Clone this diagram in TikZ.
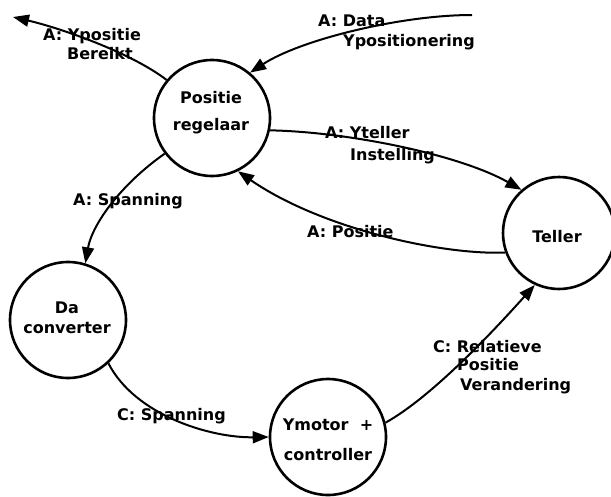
\documentclass[tikz,border=0pt]{standalone}
\usepackage{fontspec}
\setmainfont{DejaVu Sans}
\usetikzlibrary{arrows.meta}
\begin{document}
\begin{tikzpicture}[x=1pt,y=-1pt,
  proc/.style={circle,draw,line width=2.6pt,inner sep=0pt,minimum size=116pt},
  flow/.style={line width=2pt,-{Triangle[length=16pt,width=12pt]}},
  txt/.style={inner sep=0pt,font=\fontsize{16}{19}\selectfont\bfseries},
  lbl/.style={txt,anchor=base west},
  ctr/.style={txt,anchor=base}]
\useasboundingbox (0,0) rectangle (611,496);
\fill[white] (0,0) rectangle (611,496);

% processes
\node[proc] (P) at (212,118) {};
\node[proc,minimum size=112pt] (T) at (559,233) {};
\node[proc] (D) at (68,320) {};
\node[proc] (Y) at (328,437) {};

% free ends of the external flows
\coordinate (outL) at (13,17);
\coordinate (inD) at (472,15);

% flows
\draw[flow] (P.140) .. controls (130,52) and (60,28) .. (outL);
\draw[flow] (inD) .. controls (400,15) and (300,40) .. (P.50);
\draw[flow] (P.-12) .. controls (350,132) and (460,155) .. (T.131);
\draw[flow] (T.200) .. controls (440,255) and (320,228) .. (P.-64);
\draw[flow] (P.217) .. controls (120,185) and (92,225) .. (D.73);
\draw[flow] (D.-47) .. controls (135,415) and (210,438) .. (Y.180);
\draw[flow] (Y.14) .. controls (430,398) and (490,335) .. (T.245);

% flow labels
\node[lbl] (l1a) at (43,40) {A: Ypositie};
\node[lbl] (l1b) at (67,59) {Bereikt};
\node[lbl] (l2a) at (318,26) {A: Data};
\node[lbl] (l2b) at (343,46) {Ypositionering};
\node[lbl] (l3a) at (325,138) {A: Yteller};
\node[lbl] (l3b) at (350,160) {Instelling};
\node[lbl] (l4) at (307,237) {A: Positie};
\node[lbl] (l5) at (73,205) {A: Spanning};
\node[lbl] (l6) at (117,420) {C: Spanning};
\node[lbl] (l7a) at (433,352) {C: Relatieve};
\node[lbl] (l7b) at (457,370) {Positie};
\node[lbl] (l7c) at (460,390) {Verandering};

% process names
\node[ctr] (Pt1) at (211,103) {Positie};
\node[ctr] (Pt2) at (211,130) {regelaar};
\node[ctr] (Tt) at (557,242) {Teller};
\node[ctr] (Dt1) at (67,313) {Da};
\node[ctr] (Dt2) at (67,333) {converter};
\node[ctr] (Yt1) at (328,430) {Ymotor\hspace{0.7em}+};
\node[ctr] (Yt2) at (328,460) {controller};
\end{tikzpicture}
\end{document}
